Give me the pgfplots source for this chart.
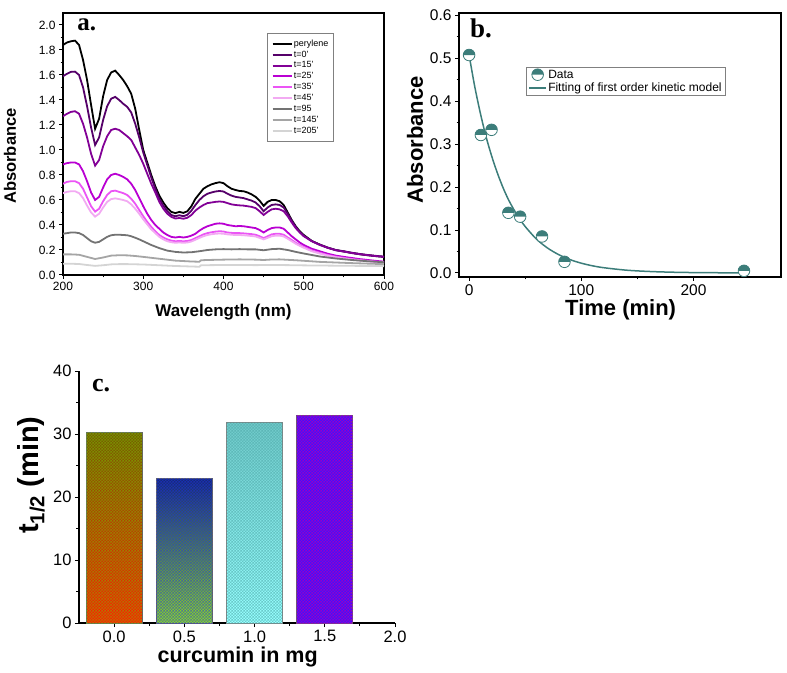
\documentclass[border=0pt]{standalone}
\usepackage{fontspec}
\setmainfont{Liberation Sans}
\newfontfamily\serifb{Liberation Serif}
\usepackage{pgfplots}
\pgfplotsset{compat=1.18}
\usepackage{pgfplotstable}
\usetikzlibrary{patterns}

\definecolor{cper}{RGB}{0,0,0}
\definecolor{ct0}{RGB}{85,0,105}
\definecolor{ct15}{RGB}{130,0,150}
\definecolor{ct25}{RGB}{185,0,210}
\definecolor{ct35}{RGB}{235,85,245}
\definecolor{ct45}{RGB}{242,170,242}
\definecolor{ct95}{RGB}{115,115,115}
\definecolor{ct145}{RGB}{165,165,165}
\definecolor{ct205}{RGB}{212,212,212}
\definecolor{teal1}{RGB}{60,125,122}

\pgfdeclarepatternformonly{checker}{\pgfpointorigin}{\pgfpoint{3.4pt}{3.4pt}}{\pgfpoint{3.4pt}{3.4pt}}{%
  \pgfpathrectangle{\pgfpointorigin}{\pgfpoint{1.7pt}{1.7pt}}%
  \pgfpathrectangle{\pgfpoint{1.7pt}{1.7pt}}{\pgfpoint{1.7pt}{1.7pt}}%
  \pgfusepath{fill}}

\pgfdeclareplotmark{tophalf}{%
  \pgfsetfillcolor{white}%
  \pgfpathcircle{\pgfpointorigin}{\pgfplotmarksize}%
  \pgfusepathqfill
  \pgfsetfillcolor{teal1}%
  \pgfpathmoveto{\pgfpoint{-\pgfplotmarksize}{0pt}}%
  \pgfpatharc{180}{0}{\pgfplotmarksize}%
  \pgfpathclose
  \pgfusepathqfill
  \pgfsetstrokecolor{teal1}%
  \pgfpathcircle{\pgfpointorigin}{\pgfplotmarksize}%
  \pgfusepathqstroke}

\pgfplotstableread{
w per t0 t15 t25 t35 t45
200 1.84 1.59 1.27 0.885 0.73 0.655
205 1.86 1.61 1.29 0.895 0.745 0.665
210 1.87 1.625 1.305 0.90 0.75 0.67
215 1.875 1.627 1.31 0.90 0.75 0.67
220 1.84 1.60 1.29 0.885 0.735 0.655
225 1.72 1.50 1.21 0.83 0.69 0.615
230 1.56 1.35 1.10 0.75 0.62 0.555
235 1.36 1.18 0.97 0.66 0.55 0.50
240 1.17 1.04 0.875 0.60 0.507 0.467
245 1.25 1.10 0.92 0.625 0.53 0.49
250 1.43 1.24 1.03 0.70 0.59 0.54
255 1.56 1.35 1.11 0.765 0.64 0.585
260 1.62 1.41 1.16 0.80 0.67 0.607
265 1.635 1.425 1.17 0.81 0.675 0.613
270 1.60 1.40 1.16 0.80 0.665 0.607
275 1.56 1.37 1.135 0.785 0.655 0.60
280 1.51 1.345 1.11 0.765 0.64 0.59
285 1.45 1.30 1.08 0.73 0.61 0.565
290 1.33 1.21 1.02 0.68 0.57 0.53
295 1.16 1.10 0.96 0.615 0.52 0.49
300 1.00 0.98 0.89 0.55 0.47 0.445
305 0.90 0.88 0.81 0.49 0.425 0.405
310 0.80 0.78 0.73 0.44 0.385 0.365
315 0.71 0.69 0.66 0.40 0.35 0.335
320 0.635 0.61 0.585 0.37 0.32 0.305
325 0.58 0.555 0.53 0.34 0.30 0.285
330 0.535 0.51 0.49 0.32 0.285 0.27
335 0.505 0.48 0.465 0.305 0.275 0.262
340 0.495 0.47 0.452 0.30 0.27 0.258
345 0.505 0.478 0.456 0.305 0.272 0.26
350 0.497 0.47 0.45 0.30 0.27 0.258
355 0.51 0.482 0.458 0.305 0.272 0.26
360 0.55 0.515 0.48 0.315 0.28 0.268
365 0.61 0.56 0.515 0.33 0.295 0.282
370 0.65 0.60 0.54 0.355 0.31 0.297
375 0.69 0.63 0.56 0.375 0.325 0.31
380 0.71 0.65 0.575 0.39 0.335 0.32
385 0.725 0.66 0.58 0.40 0.342 0.326
390 0.735 0.668 0.585 0.41 0.347 0.33
395 0.742 0.672 0.588 0.413 0.35 0.332
400 0.735 0.668 0.585 0.41 0.348 0.33
405 0.71 0.65 0.575 0.40 0.34 0.325
410 0.69 0.635 0.565 0.395 0.337 0.322
415 0.68 0.625 0.56 0.39 0.335 0.32
420 0.672 0.62 0.557 0.392 0.335 0.32
425 0.67 0.615 0.555 0.39 0.333 0.318
430 0.66 0.605 0.55 0.385 0.33 0.315
435 0.645 0.595 0.545 0.38 0.327 0.312
440 0.625 0.58 0.535 0.375 0.322 0.308
445 0.595 0.55 0.51 0.36 0.31 0.297
450 0.553 0.51 0.48 0.34 0.295 0.285
455 0.585 0.54 0.505 0.36 0.31 0.297
460 0.60 0.56 0.525 0.375 0.325 0.31
465 0.60 0.565 0.53 0.38 0.33 0.315
470 0.59 0.56 0.525 0.38 0.33 0.315
475 0.56 0.54 0.51 0.37 0.322 0.308
480 0.50 0.49 0.47 0.34 0.30 0.29
485 0.44 0.435 0.42 0.31 0.28 0.27
490 0.39 0.385 0.375 0.285 0.258 0.25
495 0.35 0.345 0.34 0.26 0.24 0.233
500 0.32 0.315 0.31 0.24 0.225 0.218
510 0.272 0.272 0.27 0.21 0.197 0.19
520 0.243 0.243 0.24 0.19 0.178 0.171
530 0.218 0.219 0.217 0.17 0.16 0.155
540 0.199 0.20 0.198 0.155 0.147 0.142
550 0.188 0.19 0.187 0.145 0.137 0.132
560 0.176 0.178 0.176 0.136 0.128 0.124
570 0.166 0.168 0.166 0.127 0.12 0.116
580 0.158 0.16 0.158 0.12 0.113 0.11
590 0.151 0.153 0.151 0.113 0.107 0.104
600 0.145 0.147 0.145 0.107 0.101 0.098
}\specA

\pgfplotstableread{
w a
200 0.33
210 0.34
215 0.34
220 0.335
225 0.32
230 0.295
235 0.27
240 0.258
245 0.265
250 0.285
255 0.305
260 0.318
265 0.322
270 0.322
275 0.32
280 0.318
285 0.31
290 0.298
295 0.285
300 0.27
310 0.24
320 0.215
330 0.195
340 0.185
350 0.18
360 0.182
370 0.19
380 0.2
390 0.205
400 0.207
410 0.205
420 0.207
430 0.205
440 0.205
450 0.198
460 0.207
470 0.21
480 0.2
490 0.185
500 0.172
520 0.148
540 0.132
560 0.12
580 0.11
600 0.102
}\specB

\pgfplotstableread{
w a
200 0.165
210 0.165
220 0.162
230 0.145
240 0.128
250 0.14
260 0.155
270 0.158
280 0.157
290 0.152
300 0.145
320 0.13
340 0.115
360 0.108
370 0.106
372 0.118
380 0.12
400 0.123
420 0.125
440 0.123
450 0.12
460 0.124
470 0.125
490 0.118
520 0.105
560 0.095
600 0.087
}\specC

\pgfplotstableread{
w a
200 0.09
210 0.09
220 0.088
230 0.08
240 0.073
250 0.078
260 0.085
270 0.087
280 0.087
300 0.084
320 0.078
340 0.072
360 0.068
370 0.066
372 0.078
400 0.08
420 0.08
440 0.079
460 0.08
480 0.079
500 0.077
550 0.074
600 0.071
}\specD

\pgfplotstableread{
t a
0 0.507
10.5 0.321
20 0.333
35 0.140
45.5 0.131
65 0.085
85 0.026
245 0.005
}\kinData

\pgfplotstableread{
t a
0 0.507
5 0.434
10 0.372
15 0.318
20 0.273
25 0.234
30 0.200
35 0.171
40 0.147
45 0.126
50 0.108
60 0.0789
70 0.0579
80 0.0425
90 0.0311
100 0.0228
110 0.0167
120 0.0123
140 0.0066
160 0.0036
180 0.0019
200 0.0010
220 0.0006
245 0.0003
}\kinFit

\begin{document}
\begin{tikzpicture}[x=1pt,y=1pt]
\useasboundingbox (0,0) rectangle (787,672);

% ---------------- panel a
\begin{axis}[
  at={(63pt,397pt)}, anchor=south west, scale only axis,
  width=321pt, height=262pt,
  xmin=200, xmax=600, ymin=0, ymax=2.096,
  xtick={200,300,400,500,600}, ytick={0,0.2,...,2.01},
  minor x tick num=1, minor y tick num=1,
  tick align=outside, tick pos=left,
  major tick length=4pt, minor tick length=2.5pt,
  axis line style={line width=1.3pt},
  major tick style={line width=1pt, black}, minor tick style={line width=0.8pt, black},
  /pgf/number format/assume math mode=true,
  tick label style={font=\fontsize{12}{12}\selectfont},
  yticklabel style={/pgf/number format/.cd, fixed, fixed zerofill, precision=1},
  ylabel={\bfseries Absorbance},
  ylabel style={font=\fontsize{16.5}{16.5}\selectfont, at={(axis description cs:-0.165,0.454)}, anchor=center},
  xlabel={\bfseries Wavelength (nm)},
  xlabel style={font=\fontsize{17}{17}\selectfont, at={(axis description cs:0.5,-0.141)}, anchor=center},
  legend style={at={(0.636,0.924)}, anchor=north west, draw=gray, line width=0.8pt,
     font=\fontsize{9}{9}\selectfont, cells={anchor=west}, row sep=0.8pt,
     inner xsep=4pt, inner ysep=5pt, nodes={inner sep=1.2pt}},
  legend image code/.code={\draw[#1, line width=2pt] (0pt,0pt) -- (19pt,0pt);},
  every axis plot/.append style={line width=1.8pt},
]
\addplot[cper, no markers] table[x=w, y=per] {\specA};
\addplot[ct0, no markers] table[x=w, y=t0] {\specA};
\addplot[ct15, no markers] table[x=w, y=t15] {\specA};
\addplot[ct25, no markers] table[x=w, y=t25] {\specA};
\addplot[ct35, no markers] table[x=w, y=t35] {\specA};
\addplot[ct45, no markers] table[x=w, y=t45] {\specA};
\addplot[ct95, no markers] table[x=w, y=a] {\specB};
\addplot[ct145, no markers] table[x=w, y=a] {\specC};
\addplot[ct205, no markers] table[x=w, y=a] {\specD};
\legend{perylene, t=0', t=15', t=25', t=35', t=45', t=95, t=145', t=205'}
\node[anchor=base west, font=\serifb\bfseries\fontsize{25}{25}\selectfont, inner sep=0pt] at (axis description cs:0.044,0.935) {a.};
\end{axis}

% ---------------- panel b
\begin{axis}[
  at={(459pt,395pt)}, anchor=south west, scale only axis,
  width=322pt, height=264pt,
  xmin=-9, xmax=278, ymin=-0.0093, ymax=0.6047,
  xtick={0,100,200}, ytick={0,0.1,...,0.61},
  minor x tick num=1, minor y tick num=1,
  tick align=outside, tick pos=left,
  major tick length=4pt, minor tick length=2.5pt,
  axis line style={line width=1.3pt},
  major tick style={line width=1pt, black}, minor tick style={line width=0.8pt, black},
  /pgf/number format/assume math mode=true,
  tick label style={font=\fontsize{15.5}{15.5}\selectfont},
  yticklabel style={/pgf/number format/.cd, fixed, fixed zerofill, precision=1},
  ylabel={\bfseries Absorbance},
  ylabel style={font=\fontsize{22}{22}\selectfont, at={(axis description cs:-0.137,0.519)}, anchor=center},
  xlabel={\bfseries Time (min)},
  xlabel style={font=\fontsize{22}{22}\selectfont, at={(axis description cs:0.502,-0.125)}, anchor=center},
  legend style={at={(0.208,0.795)}, anchor=north west, draw=gray, line width=0.8pt,
     font=\fontsize{12}{12}\selectfont, cells={anchor=west}, row sep=0.5pt,
     inner xsep=2pt, inner ysep=1pt, nodes={inner sep=1.3pt}},
]
\addplot[only marks, mark=tophalf, mark size=5.8pt, mark options={line width=0.8pt}] table[x=t, y=a] {\kinData};
\addlegendentry{Data}
\addplot[teal1, line width=1.5pt, no markers, smooth] table[x=t, y=a] {\kinFit};
\addlegendentry{Fitting of first order kinetic model}
\node[anchor=base west, font=\serifb\bfseries\fontsize{27}{27}\selectfont, inner sep=0pt] at (axis description cs:0.034,0.909) {b.};
\end{axis}

% ---------------- panel c
\begin{axis}[
  at={(79pt,49pt)}, anchor=south west, scale only axis,
  width=316pt, height=252pt,
  xmin=-0.25, xmax=2.0, ymin=0, ymax=40,
  axis x line*=bottom, axis y line*=left,
  axis line style={line width=1.3pt, -},
  xtick={0,0.5,1,1.5,2}, ytick={0,10,20,30,40},
  minor x tick num=1, minor y tick num=1,
  tick align=outside,
  major tick length=4pt, minor tick length=2.5pt,
  major tick style={line width=1pt, black}, minor tick style={line width=0.8pt, black},
  /pgf/number format/assume math mode=true,
  tick label style={font=\fontsize{16.5}{16.5}\selectfont},
  xticklabel style={/pgf/number format/.cd, fixed, fixed zerofill, precision=1},
  ylabel={\bfseries t\textsubscript{1/2} (min)},
  ylabel style={font=\fontsize{29}{29}\selectfont, at={(axis description cs:-0.152,0.587)}, anchor=center},
  xlabel={\bfseries curcumin in mg},
  xlabel style={font=\fontsize{21.5}{21.5}\selectfont, at={(axis description cs:0.502,-0.135)}, anchor=center},
  clip=false,
]
\addplot[ybar, bar width=0.4, bar shift=0pt, draw=black!60, line width=0.8pt, bottom color={rgb,255:red,255;green,30;blue,0}, top color={rgb,255:red,115;green,95;blue,0}] coordinates {(0,30.2)};
\addplot[ybar, bar width=0.4, bar shift=0pt, draw=none, pattern=checker, pattern color={rgb,255:red,120;green,200;blue,0}, opacity=0.5] coordinates {(0,30.2)};
\addplot[ybar, bar width=0.4, bar shift=0pt, draw=black!60, line width=0.8pt, bottom color={rgb,255:red,140;green,215;blue,40}, top color={rgb,255:red,20;green,40;blue,125}] coordinates {(0.5,22.9)};
\addplot[ybar, bar width=0.4, bar shift=0pt, draw=none, pattern=checker, pattern color={rgb,255:red,30;green,50;blue,230}, opacity=0.5] coordinates {(0.5,22.9)};
\addplot[ybar, bar width=0.4, bar shift=0pt, draw=black!50, line width=0.8pt, bottom color={rgb,255:red,150;green,255;blue,255}, top color={rgb,255:red,110;green,200;blue,200}] coordinates {(1.0,31.9)};
\addplot[ybar, bar width=0.4, bar shift=0pt, draw=none, pattern=checker, pattern color={rgb,255:red,80;green,170;blue,170}, opacity=0.6] coordinates {(1.0,31.9)};
\addplot[ybar, bar width=0.4, bar shift=0pt, draw=black!60, line width=0.8pt, fill={rgb,255:red,60;green,20;blue,255}] coordinates {(1.5,33.0)};
\addplot[ybar, bar width=0.4, bar shift=0pt, draw=none, pattern=checker, pattern color={rgb,255:red,150;green,0;blue,200}] coordinates {(1.5,33.0)};
\node[anchor=base west, font=\serifb\bfseries\fontsize{26}{26}\selectfont, inner sep=0pt] at (axis description cs:0.041,0.917) {c.};
\end{axis}
\end{tikzpicture}
\end{document}
